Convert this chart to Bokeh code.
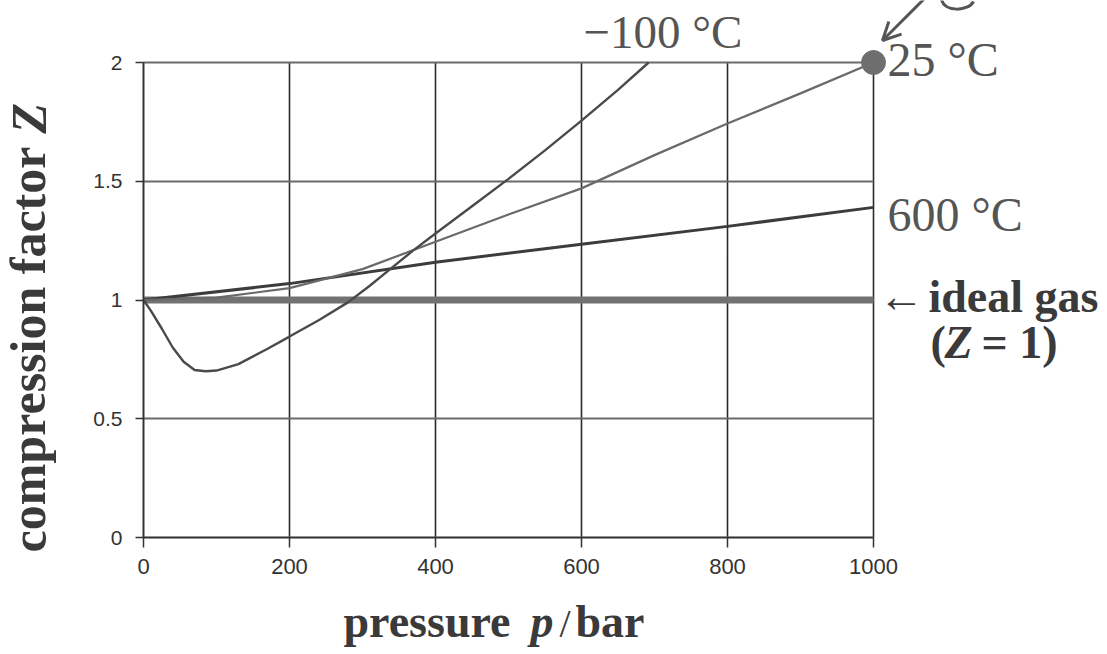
from bokeh.plotting import figure
from bokeh.models import Label, Arrow, OpenHead, FixedTicker, Range1d
from bokeh.embed import file_html
from bokeh.resources import INLINE

# ---- data ----
p_m100 = [0, 10, 25, 40, 55, 70, 85, 100, 130, 170, 200, 240, 280, 310, 340, 370,
          400, 450, 500, 550, 600, 650, 692]
z_m100 = [1.0, 0.955, 0.88, 0.80, 0.74, 0.705, 0.70, 0.703, 0.73, 0.795, 0.846, 0.915,
          0.99, 1.06, 1.135, 1.21, 1.28, 1.395, 1.51, 1.63, 1.755, 1.885, 2.0]
p_25 = [0, 100, 200, 300, 400, 500, 600, 700, 800, 900, 1000]
z_25 = [1.0, 1.01, 1.05, 1.13, 1.245, 1.36, 1.47, 1.61, 1.743, 1.87, 2.0]
p_600 = [0, 200, 400, 600, 800, 1000]
z_600 = [1.0, 1.069, 1.159, 1.235, 1.31, 1.39]
p_ideal = [0, 1000]
z_ideal = [1.0, 1.0]
x_ticks = [0, 200, 400, 600, 800, 1000]
y_ticks = [0, 0.5, 1, 1.5, 2]
y_tick_labels = {0: "0", 0.5: "0.5", 1: "1", 1.5: "1.5", 2: "2"}

SERIF = "Liberation Serif"
SANS = "Liberation Sans"
INK = "#555555"
DARK = "#3a3a3a"

# ---- geometry: plot area 0..1000 x 0..2 sits at canvas px 143..873 x 537..62 ----
W, H = 1099, 650
L, R, T, B = 143, 873, 62, 537
sx = (R - L) / 1000.0
sy = (B - T) / 2.0
x_range = Range1d(-L / sx, 1000 + (W - R) / sx)
y_range = Range1d(-(H - B) / sy, 2 + T / sy)

p = figure(width=W, height=H, output_backend="svg", toolbar_location=None,
           x_range=x_range, y_range=y_range,
           min_border_left=0, min_border_right=0, min_border_top=0, min_border_bottom=0)
p.title.visible = False
p.outline_line_color = None
p.background_fill_color = "white"
p.border_fill_color = "white"

# axes (drawn at data 0 inside the canvas-wide frame)
p.xaxis.ticker = FixedTicker(ticks=x_ticks)
p.yaxis.ticker = FixedTicker(ticks=y_ticks)
p.yaxis.major_label_overrides = y_tick_labels
p.xaxis.fixed_location = 0
p.yaxis.fixed_location = 0
p.xaxis.bounds = (0, 1000)
p.yaxis.bounds = (0, 2)
for ax in (p.xaxis, p.yaxis):
    ax.axis_line_color = "#333333"
    ax.axis_line_width = 1.5
    ax.major_tick_line_color = "#333333"
    ax.major_tick_line_width = 1.5
    ax.major_tick_in = 0
    ax.minor_tick_line_color = None
    ax.major_label_text_font = SANS
    ax.major_label_text_color = "#333333"
p.xaxis.major_tick_out = 10
p.xaxis.major_label_standoff = 11
p.xaxis.major_label_text_font_size = "22px"
p.yaxis.major_tick_out = 8
p.yaxis.major_label_standoff = 13
p.yaxis.major_label_text_font_size = "21px"

# grid limited to the plot area
p.xgrid.bounds = (0, 1000)
p.xgrid.cross_bounds = (0, 2)
p.ygrid.bounds = (0, 2)
p.ygrid.cross_bounds = (0, 1000)
p.xgrid.grid_line_color = "#2a2a2a"
p.xgrid.grid_line_width = 1.6
p.ygrid.grid_line_color = "#6a6a6a"
p.ygrid.grid_line_width = 2.2

# curves
p.line(p_ideal, z_ideal, line_color="#727272", line_width=7)
p.line(p_600, z_600, line_color="#3c3c3c", line_width=3)
p.line(p_25, z_25, line_color="#6a6a6a", line_width=2.2)
p.line(p_m100, z_m100, line_color="#4a4a4a", line_width=2.4)
p.scatter([p_25[-1]], [z_25[-1]], size=24, fill_color="#6e6e6e", line_color="#6e6e6e")


def X(px):
    """picture pixel x -> data x"""
    return (px - L) / sx


def Y(py):
    """picture pixel y -> data y"""
    return (B - py) / sy


def lab(px, py, text, size, style="normal", color=INK, angle=0.0):
    # py / px is the wanted baseline; bokeh's alphabetic anchor sits ~0.34em above it
    fs = float(size.replace("px", ""))
    if angle:
        px = px - 0.34 * fs
    else:
        py = py - 0.34 * fs
    p.add_layout(Label(x=X(px), y=Y(py), text=text, text_font=SERIF, text_font_size=size,
                       text_font_style=style, text_color=color, angle=angle,
                       text_align="left", text_baseline="alphabetic"))


# curve labels
lab(583, 47, "\u2212100 \u00b0C", "47px")
lab(887, 75, "25 \u00b0C", "48px")
lab(887, 230, "600 \u00b0C", "48px")
lab(878, 312, "\u2190", "46px", color=DARK)
lab(928, 312, "ideal gas", "46px", style="bold", color=DARK)
lab(930, 358, "(", "46px", style="bold", color=DARK)
lab(944, 358, "Z", "46px", style="bold italic", color=DARK)
lab(981, 358, "= 1)", "46px", style="bold", color=DARK)

# axis titles
lab(343, 637, "pressure", "46px", style="bold", color=DARK)
lab(530, 637, "p", "46px", style="bold italic", color=DARK)
lab(559, 637, "/", "40px", color=DARK)
lab(575, 637, "bar", "46px", style="bold", color=DARK)
lab(45, 552, "compression factor", "50px", style="bold", color=DARK, angle=1.5708)
lab(45, 133, "Z", "50px", style="bold italic", color=DARK, angle=1.5708)

# hand-drawn pen arrow pointing at the 25 degC end point
p.add_layout(Arrow(x_start=X(926), y_start=Y(-4), x_end=X(882), y_end=Y(40),
                   line_color="#555555", line_width=3,
                   end=OpenHead(size=18, line_color="#555555", line_width=3)))
p.bezier(x0=[X(941)], y0=[Y(-1)], x1=[X(973)], y1=[Y(1)],
         cx0=[X(944)], cy0=[Y(12)], cx1=[X(968)], cy1=[Y(11)],
         line_color="#555555", line_width=3)

open("out.html", "w").write(file_html(p, INLINE))
